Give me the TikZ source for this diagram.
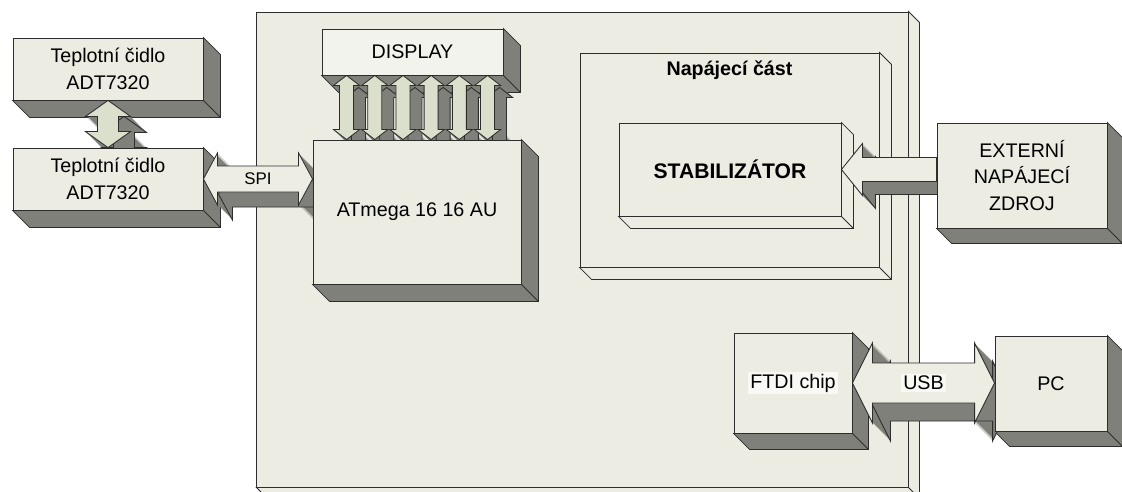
\documentclass[tikz,border=0pt]{standalone}
\usepackage{fontspec}
\setmainfont{Liberation Sans}
\usetikzlibrary{calc}

\definecolor{boxfill}{RGB}{236,236,226}
\definecolor{dispfill}{RGB}{243,243,237}
\definecolor{depthgray}{RGB}{128,128,122}
\definecolor{linkgreen}{RGB}{218,224,204}
\definecolor{linkpale}{RGB}{237,237,228}
\definecolor{edgecol}{RGB}{45,45,45}

\pgfdeclarelayer{board}
\pgfdeclarelayer{depth}
\pgfdeclarelayer{links}
\pgfsetlayers{board,depth,links,main}

\tikzset{
  rim/.style={draw=edgecol, line width=0.6pt},
  block/.style={rim, fill=boxfill, rectangle, inner sep=0pt, align=center,
    font=\fontsize{14}{19}\selectfont},
  tag/.style={fill=white!65!boxfill, inner sep=1.5pt, font=\fontsize{14}{17}\selectfont}
}

% 3D side of a box, depth going down right
\newcommand{\boxdepth}[3]{%
  \filldraw[rim,fill=#3] (#1.north east) -- ++(#2,#2) -- ([shift={(#2,#2)}]#1.south east)
    -- ([shift={(#2,#2)}]#1.south west) -- (#1.south west) -- (#1.south east) -- cycle;
  \draw[rim] (#1.south east) -- ++(#2,#2);}

% arrow outlines: tip A, tip/tail B, shaft half width, head half width, head length, offset
\newcommand{\hpath}[6]{($(#1)+(#6,#6)$) -- ($(#1)+(#5+#6,-#4+#6)$) -- ($(#1)+(#5+#6,-#3+#6)$)
  -- ($(#2)+(-#5+#6,-#3+#6)$) -- ($(#2)+(-#5+#6,-#4+#6)$) -- ($(#2)+(#6,#6)$)
  -- ($(#2)+(-#5+#6,#4+#6)$) -- ($(#2)+(-#5+#6,#3+#6)$) -- ($(#1)+(#5+#6,#3+#6)$)
  -- ($(#1)+(#5+#6,#4+#6)$) -- cycle}
\newcommand{\vpath}[6]{($(#1)+(#6,#6)$) -- ($(#1)+(#4+#6,#5+#6)$) -- ($(#1)+(#3+#6,#5+#6)$)
  -- ($(#2)+(#3+#6,-#5+#6)$) -- ($(#2)+(#4+#6,-#5+#6)$) -- ($(#2)+(#6,#6)$)
  -- ($(#2)+(-#4+#6,-#5+#6)$) -- ($(#2)+(-#3+#6,-#5+#6)$) -- ($(#1)+(-#3+#6,#5+#6)$)
  -- ($(#1)+(-#4+#6,#5+#6)$) -- cycle}
\newcommand{\spath}[6]{($(#1)+(#6,#6)$) -- ($(#1)+(#5+#6,-#4+#6)$) -- ($(#1)+(#5+#6,-#3+#6)$)
  -- ($(#2)+(#6,-#3+#6)$) -- ($(#2)+(#6,#3+#6)$) -- ($(#1)+(#5+#6,#3+#6)$)
  -- ($(#1)+(#5+#6,#4+#6)$) -- cycle}

% 3D arrow: dark sweep, then light face
\newcommand{\flowlink}[8]{%
  \foreach \st in {0,...,#7}{\fill[depthgray] #1{#2}{#3}{#4}{#5}{#6}{\st};}
  \draw[rim] #1{#2}{#3}{#4}{#5}{#6}{#7};
  \draw[rim,fill=#8] #1{#2}{#3}{#4}{#5}{#6}{0};}

\begin{document}
\begin{tikzpicture}[x=0.025cm,y=-0.025cm]
  \useasboundingbox (0,0) rectangle (1122,492);

  % board and power part
  \begin{pgfonlayer}{board}
    \node[block, minimum width=16.275cm, minimum height=11.875cm] (board) at (582.5,249.5) {};
    \filldraw[rim,fill=boxfill] (board.north east) -- ++(11,11) -- ([shift={(11,5)}]board.south east)
      -- ([shift={(5,5)}]board.south west) -- (board.south west) -- (board.south east) -- cycle;
    \draw[rim] (board.south east) -- ++(5,5);
    \node[block, minimum width=7.475cm, minimum height=5.35cm,
      label={[anchor=center, yshift=-0.45cm, font=\bfseries\fontsize{14}{17}\selectfont]north:Napájecí část}]
      (pwr) at (729.5,160) {};
    \boxdepth{pwr}{12}{boxfill}
  \end{pgfonlayer}

  % blocks
  \node[block, minimum width=5.55cm, minimum height=2.325cm, font=\bfseries\fontsize{15}{18}\selectfont]
    (stab) at (730,169.5) {STABILIZÁTOR};
  \node[block, minimum width=4.75cm, minimum height=1.55cm] (s1) at (108,69) {Teplotní čidlo\\ADT7320};
  \node[block, minimum width=4.75cm, minimum height=1.55cm] (s2) at (108,179) {Teplotní čidlo\\ADT7320};
  \node[block, fill=dispfill, minimum width=4.525cm, minimum height=1.15cm] (disp) at (412.5,52) {DISPLAY};
  \node[block, minimum width=5.2cm, minimum height=3.6cm] (mcu) at (417,212) {ATmega 16 16 AU};
  \node[block, minimum width=4.25cm, minimum height=2.625cm] (ext) at (1022,175.5) {EXTERNÍ\\NAPÁJECÍ\\ZDROJ};
  \node[block, minimum width=2.95cm, minimum height=2.5cm] (ftdi) at (793,383)
    {\setlength{\fboxsep}{1.5pt}\colorbox{white!65!boxfill}{FTDI chip}};
  \node[block, minimum width=2.8cm, minimum height=2.375cm] (pc) at (1051,383.5) {PC};

  \begin{pgfonlayer}{depth}
    \boxdepth{stab}{12}{boxfill}
    \boxdepth{s1}{17}{depthgray}
    \boxdepth{s2}{17}{depthgray}
    \boxdepth{disp}{17}{depthgray}
    \boxdepth{mcu}{17}{depthgray}
    \boxdepth{ext}{15}{depthgray}
    \boxdepth{ftdi}{16}{depthgray}
    \boxdepth{pc}{15}{depthgray}
  \end{pgfonlayer}

  % connectors
  \coordinate (spiA) at (s2.east);
  \coordinate (spiB) at (mcu.west |- s2.east);
  \coordinate (extA) at (stab.east);
  \coordinate (extB) at (ext.west |- stab.east);
  \coordinate (usbA) at (ftdi.east);
  \coordinate (usbB) at (pc.west |- ftdi.east);
  \begin{pgfonlayer}{links}
    \flowlink{\vpath}{s1.south}{s2.north}{10.5}{22.5}{16}{16}{linkgreen}
    \foreach \i in {0,...,5}{
      \coordinate (dt\i) at ($(disp.south west)+(25+28.2*\i,0)$);
      \coordinate (db\i) at (mcu.north -| dt\i);
      \flowlink{\vpath}{dt\i}{db\i}{7}{13}{10}{12}{linkgreen}
    }
    \flowlink{\hpath}{spiA}{spiB}{13}{26}{14}{15}{linkpale}
    \flowlink{\spath}{extA}{extB}{12}{26}{21}{13}{linkpale}
    \flowlink{\hpath}{usbA}{usbB}{20}{40}{20}{18}{linkpale}
  \end{pgfonlayer}

  \node[font=\fontsize{12}{14}\selectfont] (spi) at ($(spiA)!0.5!(spiB)$) {SPI};
  \node[tag] (usb) at ($(usbA)!0.5!(usbB)$) {USB};
\end{tikzpicture}
\end{document}
